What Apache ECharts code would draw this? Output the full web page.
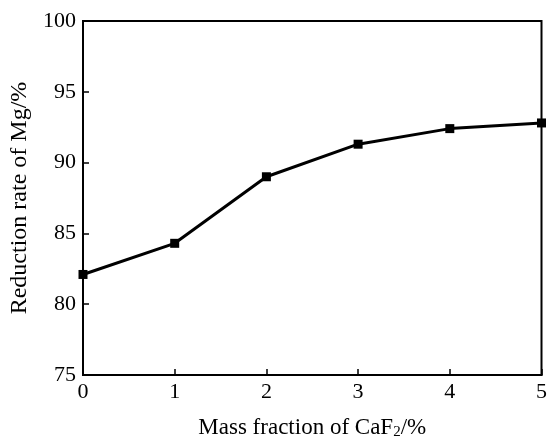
<!DOCTYPE html>
<html>
<head>
<meta charset="utf-8">
<script src="https://cdn.jsdelivr.net/npm/echarts@6/dist/echarts.min.js"></script>
<style>
    html, body { margin: 0; padding: 0; background: #fff; }
    #chart { width: 550px; height: 445px; }
</style>
</head>
<body>
<div id="chart"></div>
<script>

const caf2Fraction = [0, 1, 2, 3, 4, 5];
const reductionRate = [82.1, 84.3, 89.0, 91.3, 92.4, 92.8];

const font = '"Liberation Serif", "Times New Roman", serif';

const chart = echarts.init(document.getElementById('chart'));

chart.setOption({
    animation: false,
    grid: {
        left: 83,
        right: 4,
        top: 21,
        bottom: 63,
        show: true,
        borderColor: '#000',
        borderWidth: 2,
    },
    xAxis: {
        type: 'value',
        min: 0,
        max: 5,
        interval: 1,
        name: 'Mass fraction of CaF{sub|2}/%',
        nameLocation: 'middle',
        nameGap: 40,
        nameTextStyle: {
            color: '#000',
            fontFamily: font,
            fontSize: 23,
            rich: {
                sub: { fontFamily: font, fontSize: 15, color: '#000', verticalAlign: 'bottom', padding: [10, 0, 0, 0] },
            },
        },
        axisLine: { lineStyle: { color: '#000', width: 2 } },
        axisTick: { inside: true, length: 6, lineStyle: { color: '#000', width: 1.5 } },
        axisLabel: { color: '#000', fontFamily: font, fontSize: 22, margin: 6 },
        splitLine: { show: false },
    },
    yAxis: {
        type: 'value',
        min: 75,
        max: 100,
        interval: 5,
        name: 'Reduction rate of Mg/%',
        nameLocation: 'middle',
        nameGap: 46,
        nameTextStyle: { color: '#000', fontFamily: font, fontSize: 24 },
        axisLine: { show: true, lineStyle: { color: '#000', width: 2 } },
        axisTick: { inside: true, length: 6, lineStyle: { color: '#000', width: 1.5 } },
        axisLabel: { color: '#000', fontFamily: font, fontSize: 22, margin: 7 },
        splitLine: { show: false },
    },
    series: [
        {
            type: 'line',
            data: caf2Fraction.map((x, i) => [x, reductionRate[i]]),
            symbol: 'rect',
            symbolSize: 9,
            lineStyle: { color: '#000', width: 3 },
            itemStyle: { color: '#000' },
            clip: false,
        },
    ],
});

</script>
</body>
</html>
